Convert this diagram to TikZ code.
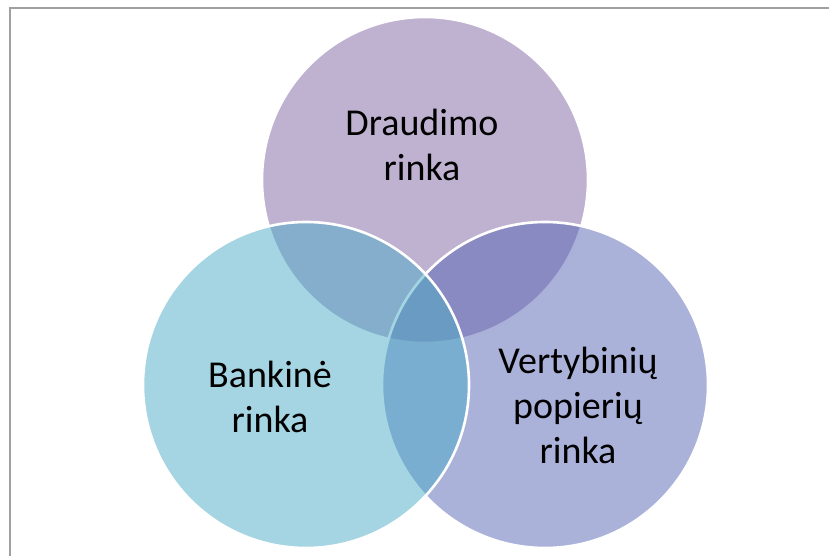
\documentclass[tikz,border=0pt]{standalone}
\usepackage{fontspec}
\setmainfont{Carlito}
\definecolor{cpurple}{RGB}{128,100,162}
\definecolor{caqua}{RGB}{75,172,198}
\definecolor{cblue}{RGB}{87,101,180}
\definecolor{framegray}{RGB}{160,160,160}
\tikzset{
  venn/.style={circle, minimum size=326pt, inner sep=0pt, draw=white, line width=2.6pt, fill opacity=0.5},
  lbl/.style={font=\fontsize{38}{45}\selectfont, align=center, text=black, inner sep=0pt}
}
\begin{document}
\begin{tikzpicture}[x=1pt,y=1pt]
\useasboundingbox (0,0) rectangle (829,556);
\draw[framegray, line width=1.2pt] (10,0) -- (10,548) -- (829,548);
\node[venn, fill=cpurple] (top) at (425,376) {};
\node[venn, fill=cblue] (right) at (545,171) {};
\node[venn, fill=caqua] (left) at (306,171) {};
\node[lbl] (t1) at (422,411) {Draudimo\\rinka};
\node[lbl] (t2) at (270,159) {Bankinė\\rinka};
\node[lbl] (t3) at (578,151) {Vertybinių\\popierių\\rinka};
\end{tikzpicture}
\end{document}
